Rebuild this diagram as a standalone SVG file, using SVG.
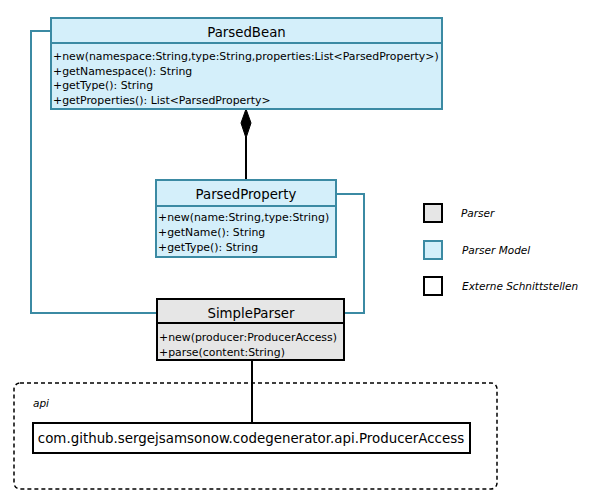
<svg xmlns="http://www.w3.org/2000/svg" width="600" height="497" viewBox="0 0 600 497">
<defs>
<style>
.model{fill:#d4effa;stroke:#3b8aa3;stroke-width:2}
.parser{fill:#e6e6e6;stroke:#000;stroke-width:2}
.ext{fill:#fff;stroke:#000;stroke-width:2}
.title{font-family:"DejaVu Sans",sans-serif;font-size:13.3px;fill:#000;text-anchor:middle}
.m{font-family:"DejaVu Sans",sans-serif;font-size:10.9px;fill:#000}
.leg{font-family:"DejaVu Sans",sans-serif;font-size:10.5px;font-style:italic;fill:#000}
.tc{fill:none;stroke:#3b8aa3;stroke-width:2}
.bc{fill:none;stroke:#000;stroke-width:2}
</style>
</defs>
<rect width="600" height="497" fill="#fff"/>
<g id="connectors">
<polyline class="tc" points="51,31 31,31 31,313 157,313"/>
<polyline class="tc" points="336,194 364,194 364,313 344,313"/>
<line class="bc" x1="246" y1="137" x2="246" y2="180"/>
<polygon points="246,109 251,123 246,138 241,123" fill="#000" stroke="#000"/>
<line class="bc" x1="252" y1="360" x2="252" y2="423"/>
</g>
<g id="api-package">
<rect x="14" y="383" width="483" height="106" rx="6" fill="none" stroke="#000" stroke-width="1.5" stroke-dasharray="4,3"/>
<text class="leg" x="33" y="407">api</text>
</g>
<g id="ParsedBean">
<rect class="model" x="51" y="18" width="391" height="91"/>
<line class="model" x1="51" y1="43" x2="442" y2="43"/>
<text class="title" x="246.5" y="37">ParsedBean</text>
<text class="m" x="53" y="60">+new(namespace:String,type:String,properties:List&lt;ParsedProperty&gt;)</text>
<text class="m" x="53" y="75">+getNamespace(): String</text>
<text class="m" x="53" y="89">+getType(): String</text>
<text class="m" x="53" y="104">+getProperties(): List&lt;ParsedProperty&gt;</text>
</g>
<g id="ParsedProperty">
<rect class="model" x="156" y="180" width="180" height="77"/>
<line class="model" x1="156" y1="206" x2="336" y2="206"/>
<text class="title" x="246" y="199">ParsedProperty</text>
<text class="m" x="158" y="221">+new(name:String,type:String)</text>
<text class="m" x="158" y="236">+getName(): String</text>
<text class="m" x="158" y="251">+getType(): String</text>
</g>
<g id="SimpleParser">
<rect class="parser" x="157" y="299" width="187" height="61"/>
<line class="parser" x1="157" y1="323" x2="344" y2="323"/>
<text class="title" x="251" y="318">SimpleParser</text>
<text class="m" x="159" y="341">+new(producer:ProducerAccess)</text>
<text class="m" x="159" y="356">+parse(content:String)</text>
</g>
<g id="ProducerAccess">
<rect class="ext" x="33" y="423" width="437" height="30"/>
<text x="251" y="443" style="font-family:'DejaVu Sans',sans-serif;font-size:13.4px;text-anchor:middle">com.github.sergejsamsonow.codegenerator.api.ProducerAccess</text>
</g>
<g id="legend">
<rect class="parser" x="424" y="204" width="18" height="18"/>
<text class="leg" x="461" y="217">Parser</text>
<rect class="model" x="424" y="241" width="18" height="18"/>
<text class="leg" x="462" y="254">Parser Model</text>
<rect class="ext" x="424" y="277" width="18" height="18"/>
<text class="leg" x="462" y="290">Externe Schnittstellen</text>
</g>
</svg>
